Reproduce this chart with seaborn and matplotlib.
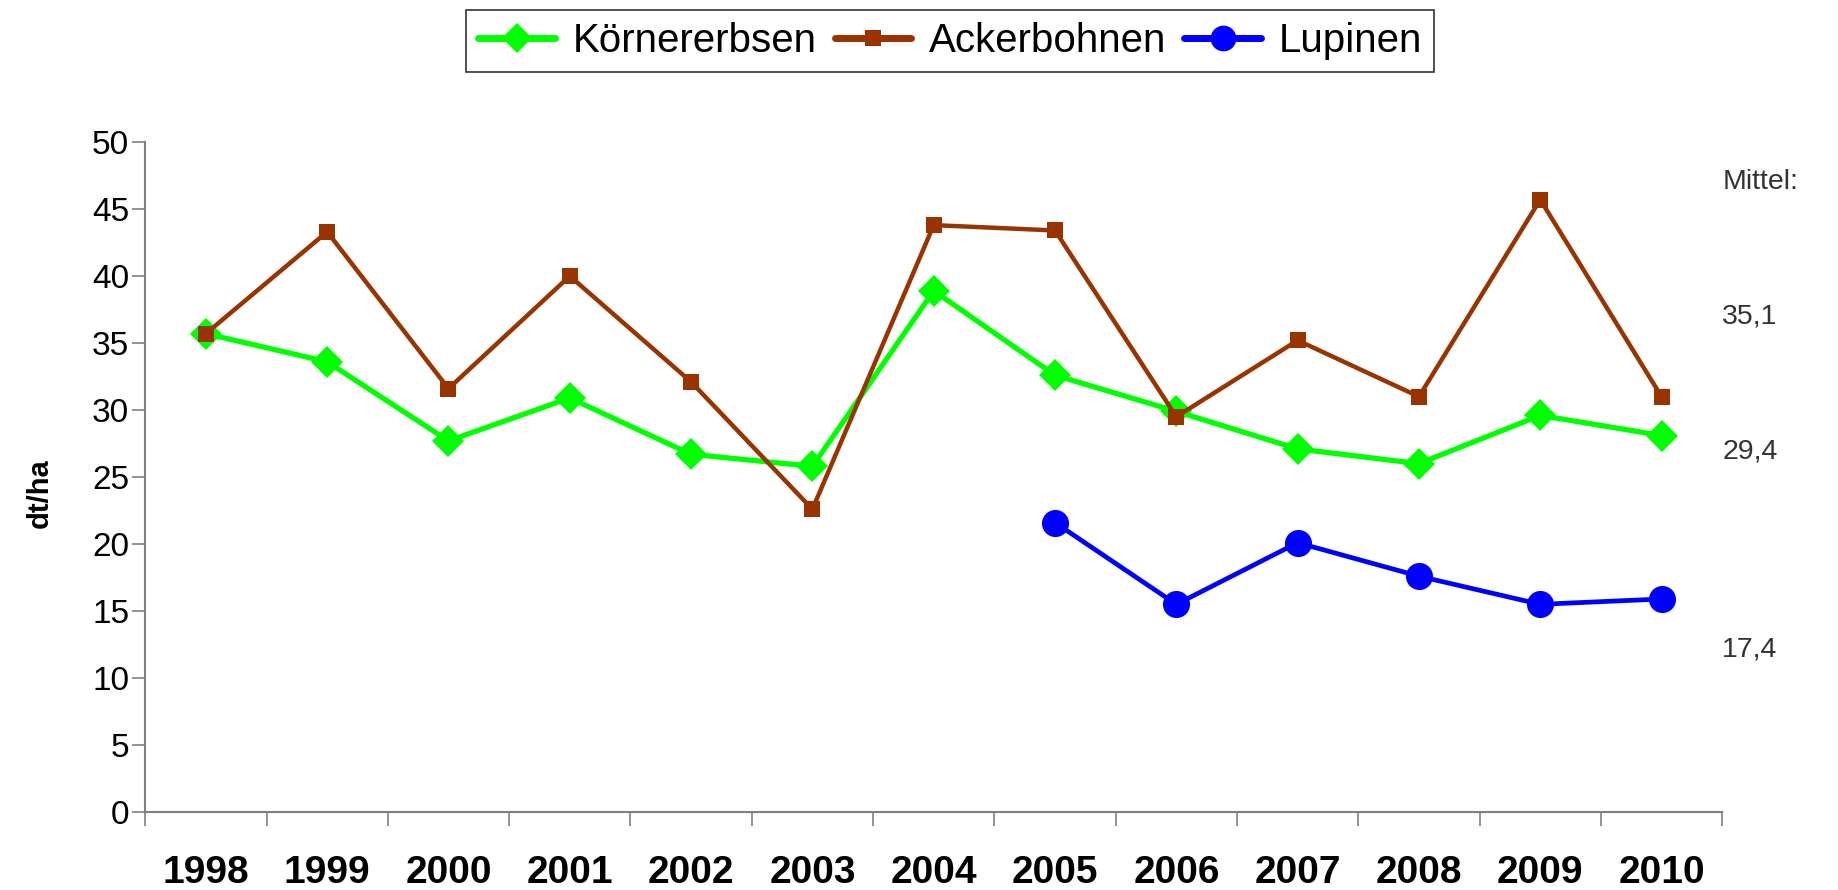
import numpy as np
import pandas as pd
import matplotlib
matplotlib.use('Agg')
import matplotlib.pyplot as plt
import seaborn as sns
from matplotlib.ticker import FixedLocator, NullFormatter

years = ['1998', '1999', '2000', '2001', '2002', '2003', '2004',
         '2005', '2006', '2007', '2008', '2009', '2010']
koernererbsen = [35.7, 33.6, 27.7, 30.9, 26.7, 25.8, 38.9,
                 32.6, 29.9, 27.1, 26.0, 29.6, 28.1]
ackerbohnen = [35.7, 43.3, 31.6, 40.0, 32.1, 22.6, 43.8,
               43.4, 29.5, 35.2, 31.0, 45.7, 31.0]
lupinen_years = ['2005', '2006', '2007', '2008', '2009', '2010']
lupinen = [21.6, 15.5, 20.1, 17.6, 15.5, 15.9]

mittel_labels = ['Mittel:', '35,1', '29,4', '17,4']
mittel_pos = [47.0, 37.0, 26.9, 12.1]

sns.set_style('white')
plt.rcParams['font.family'] = ['Liberation Sans', 'DejaVu Sans']
plt.rcParams['text.color'] = 'black'
plt.rcParams['axes.labelcolor'] = 'black'
plt.rcParams['xtick.labelcolor'] = 'black'
plt.rcParams['ytick.labelcolor'] = 'black'

fig = plt.figure(figsize=(18.38, 8.90), dpi=100)
ax = fig.add_axes([0.079, 0.0876, 0.858, 0.7528])

x_all = np.arange(len(years))
x_lup = np.array([years.index(y) for y in lupinen_years])

sns.lineplot(x=x_all, y=koernererbsen, ax=ax, color='#00FF00', lw=3.8,
             marker='D', markersize=16, markeredgewidth=0,
             label='Körnererbsen', zorder=3)
sns.lineplot(x=x_all, y=ackerbohnen, ax=ax, color='#993300', lw=3.2,
             marker='s', markersize=11.5, markeredgewidth=0,
             label='Ackerbohnen', zorder=4)
sns.lineplot(x=x_lup, y=lupinen, ax=ax, color='#0000FF', lw=3.4,
             marker='o', markersize=19.5, markeredgewidth=0,
             label='Lupinen', zorder=5)

ax.set_xlim(-0.5, len(years) - 0.5)
ax.set_ylim(0, 50)
ax.set_yticks(range(0, 51, 5))
ax.tick_params(axis='y', labelsize=24, length=9.5, width=1.2, color='#808080',
               labelcolor='black', direction='out', left=True, pad=2)

ax.set_xticks(x_all)
ax.set_xticklabels(years, fontweight='bold', fontsize=28)
ax.tick_params(axis='x', which='major', length=0, pad=31, labelcolor='black')
ax.xaxis.set_minor_locator(FixedLocator(np.arange(-0.5, len(years), 1.0)))
ax.xaxis.set_minor_formatter(NullFormatter())
ax.tick_params(axis='x', which='minor', length=10, width=1.2,
               color='#808080', direction='out', bottom=True)

for side in ['top', 'right']:
    ax.spines[side].set_visible(False)
for side in ['left', 'bottom']:
    ax.spines[side].set_color('#808080')
    ax.spines[side].set_linewidth(1.5)

ax.set_ylabel('dt/ha', fontsize=21, fontweight='bold', color='black')
ax.yaxis.set_label_coords(-0.058, 0.476)
ax.set_xlabel('')

for lab, yv in zip(mittel_labels, mittel_pos):
    ax.text(len(years) - 0.5, yv, lab, fontsize=20.5, color='#333333',
            ha='left', va='center', clip_on=False)

handles, labels = ax.get_legend_handles_labels()
ax.get_legend().remove()
leg = fig.legend(handles, labels, loc='center', bbox_to_anchor=(0.517, 0.954),
                 ncol=3, frameon=True, fancybox=False, edgecolor='black',
                 prop={'size': 29}, labelcolor='black',
                 handlelength=1.9, handletextpad=0.44, columnspacing=0.45,
                 borderpad=0.3, markerscale=0.95)
leg.get_frame().set_linewidth(1.2)
for line in leg.get_lines():
    line.set_linewidth(5)

fig.savefig('out.png', dpi=100, facecolor='white')
